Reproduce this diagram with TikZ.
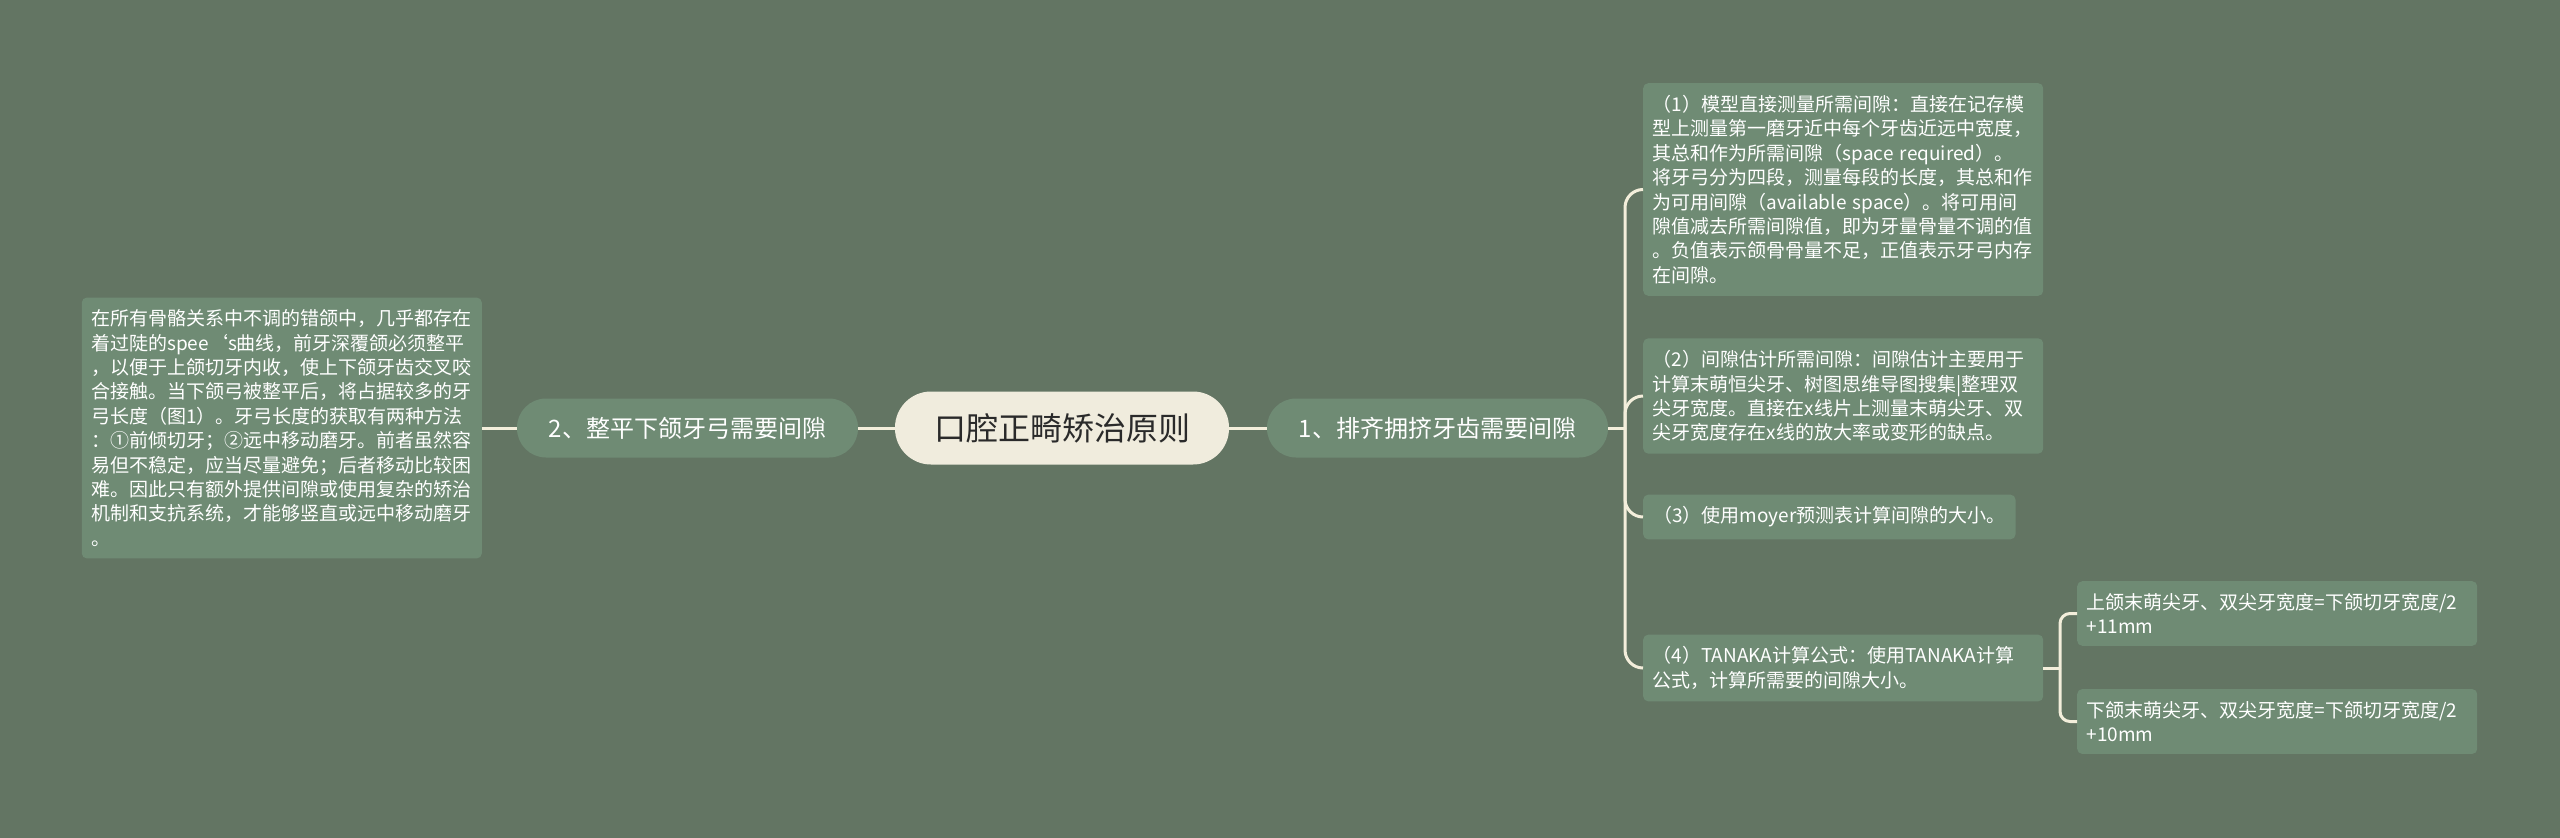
\documentclass[tikz,border=0pt]{standalone}
\usepackage{fontspec}
\setmainfont{Noto Sans CJK SC}
\newfontfamily\cjk{Noto Sans CJK SC}
\definecolor{bgc}{HTML}{637563}
\definecolor{leafc}{HTML}{6F8B74}
\definecolor{rootc}{HTML}{F0ECDD}
\definecolor{linec}{HTML}{F3EEDB}
\definecolor{roottext}{HTML}{2A2A2A}
\tikzset{
  leafbox/.style={fill=leafc, rounded corners=5pt, text=white, align=left,
    inner xsep=10pt, inner ysep=12pt, font=\cjk\fontsize{19}{24.4}\selectfont},
  wideleaf/.style={leafbox, text width=381pt, inner xsep=9.5pt},
  midbox/.style={fill=leafc, rounded corners=29pt, text=white, minimum width=341pt,
    minimum height=59pt, inner sep=0pt, font=\cjk\fontsize{24}{28}\selectfont},
  rootbox/.style={fill=rootc, rounded corners=36pt, text=roottext, minimum width=334pt,
    minimum height=73pt, inner sep=0pt, font=\cjk\fontsize{32}{36}\selectfont},
  conn/.style={draw=linec, line width=3pt},
}
\begin{document}
\begin{tikzpicture}[x=1pt,y=-1pt]
\fill[bgc] (0,0) rectangle (2560,838);
\useasboundingbox (0,0) rectangle (2560,838);

\node[rootbox] (root) at (1062,428) {口腔正畸矫治原则};
\node[midbox] (r1) at (1437.5,428) {1、排齐拥挤牙齿需要间隙};
\node[midbox] (l1) at (687.5,428) {2、整平下颌牙弓需要间隙};

\node[wideleaf, anchor=east] (ll) at (482,428) {在所有骨骼关系中不调的错颌中，几乎都存在\\
着过陡的spee‘s曲线，前牙深覆颌必须整平\\
，以便于上颌切牙内收，使上下颌牙齿交叉咬\\
合接触。当下颌弓被整平后，将占据较多的牙\\
弓长度（图1）。牙弓长度的获取有两种方法\\
：①前倾切牙；②远中移动磨牙。前者虽然容\\
易但不稳定，应当尽量避免；后者移动比较困\\
难。因此只有额外提供间隙或使用复杂的矫治\\
机制和支抗系统，才能够竖直或远中移动磨牙\\
。};

\node[wideleaf, anchor=west] (c1) at (1643,189.5) {（1）模型直接测量所需间隙：直接在记存模\\
型上测量第一磨牙近中每个牙齿近远中宽度，\\
其总和作为所需间隙（space required）。\\
将牙弓分为四段，测量每段的长度，其总和作\\
为可用间隙（available space）。将可用间\\
隙值减去所需间隙值，即为牙量骨量不调的值\\
。负值表示颌骨骨量不足，正值表示牙弓内存\\
在间隙。};

\node[wideleaf, anchor=west] (c2) at (1643,396) {（2）间隙估计所需间隙：间隙估计主要用于\\
计算末萌恒尖牙、树图思维导图搜集|整理双\\
尖牙宽度。直接在x线片上测量末萌尖牙、双\\
尖牙宽度存在x线的放大率或变形的缺点。};

\node[leafbox, anchor=west] (c3) at (1643,517) {（3）使用moyer预测表计算间隙的大小。};

\node[wideleaf, anchor=west] (c4) at (1643,668) {（4）TANAKA计算公式：使用TANAKA计算\\
公式，计算所需要的间隙大小。};

\node[wideleaf, anchor=west] (d1) at (2077,613.5) {上颌末萌尖牙、双尖牙宽度=下颌切牙宽度/2\\
+11mm};
\node[wideleaf, anchor=west] (d2) at (2077,721.5) {下颌末萌尖牙、双尖牙宽度=下颌切牙宽度/2\\
+10mm};

\coordinate (j1) at (1625,428);
\coordinate (j2) at (2060,668);

\draw[conn] (root.west) -- (l1.east);
\draw[conn] (l1.west) -- (ll.east);
\draw[conn] (root.east) -- (r1.west);
\draw[conn] (r1.east) -- (j1);
\foreach \c in {c1,c2,c3,c4}{
  \draw[conn, rounded corners=18pt] (j1) |- (\c.west);
}
\draw[conn] (c4.east) -- (j2);
\foreach \c in {d1,d2}{
  \draw[conn, rounded corners=10pt] (j2) |- (\c.west);
}
\end{tikzpicture}
\end{document}
